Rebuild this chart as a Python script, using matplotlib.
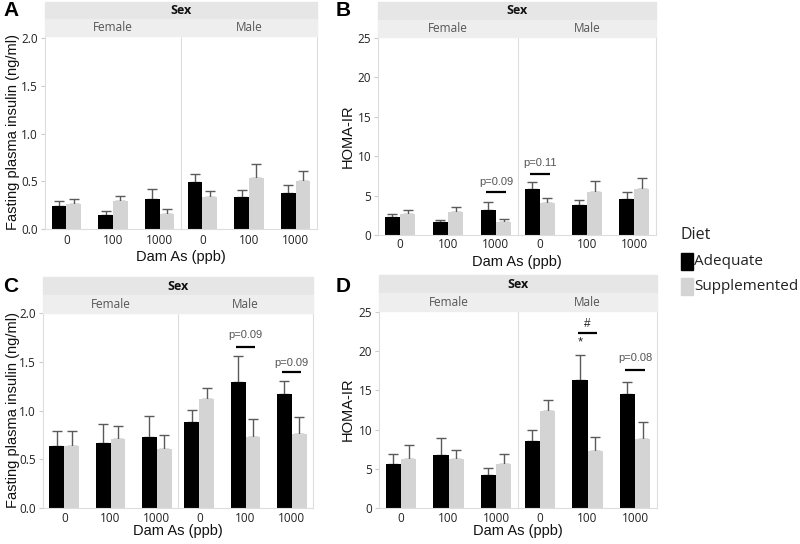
import numpy as np
import matplotlib
matplotlib.use("Agg")
from matplotlib import pyplot as plt
from matplotlib.patches import Rectangle
from matplotlib.transforms import ScaledTranslation

# groups: Female 0/100/1000, Male 0/100/1000
doses = ["0", "100", "1000"]
sexes = ["Female", "Male"]

# panel A - fasting plasma insulin (ng/ml)
a_adq = [0.24, 0.15, 0.31, 0.49, 0.34, 0.38]
a_adq_se = [0.05, 0.04, 0.11, 0.085, 0.07, 0.08]
a_sup = [0.26, 0.29, 0.16, 0.34, 0.53, 0.50]
a_sup_se = [0.05, 0.06, 0.05, 0.06, 0.15, 0.11]

# panel B - HOMA-IR
b_adq = [2.3, 1.6, 3.2, 5.8, 3.8, 4.6]
b_adq_se = [0.4, 0.3, 1.0, 0.9, 0.65, 0.9]
b_sup = [2.7, 2.9, 1.65, 4.0, 5.5, 5.9]
b_sup_se = [0.5, 0.7, 0.35, 0.7, 1.4, 1.3]

# panel C - fasting plasma insulin (ng/ml)
c_adq = [0.64, 0.67, 0.73, 0.88, 1.29, 1.17]
c_adq_se = [0.15, 0.19, 0.21, 0.13, 0.27, 0.13]
c_sup = [0.64, 0.71, 0.61, 1.12, 0.73, 0.755]
c_sup_se = [0.15, 0.13, 0.14, 0.11, 0.18, 0.175]

# panel D - HOMA-IR
d_adq = [5.6, 6.8, 4.2, 8.5, 16.3, 14.5]
d_adq_se = [1.3, 2.1, 0.95, 1.4, 3.2, 1.6]
d_sup = [6.3, 6.25, 5.6, 12.3, 7.2, 8.8]
d_sup_se = [1.7, 1.15, 1.3, 1.5, 1.9, 2.2]

# annotations: (group index, line y, label, label y)
b_notes = [(2, 5.4, "p=0.09", 6.7), (3, 7.7, "p=0.11", 9.1)]
c_notes = [(4, 1.65, "p=0.09", 1.77), (5, 1.39, "p=0.09", 1.49)]
d_notes = [(4, 22.3, "#", 23.5), (5, 17.6, "p=0.08", 19.1)]

W, H = 800, 544
fig = plt.figure(figsize=(8, 5.44), dpi=100)

TICK_FONT = "Open Sans"
AXIS_FONT = "Liberation Sans"
BLACK = "#000000"
GREY = "#D4D4D4"
EDGE = "#DDDDDD"
bw = 0.32


def fx(x):
    return x / W


def fy(y):
    return 1 - y / H


def panel(box, adq, adq_se, sup, sup_se, ymax, yticks, ylabel, letter, notes,
          ticky, xlaby, ylabx, star=None):
    left, div, right, s_top, s_mid, top, bottom = box
    # strips
    fig.patches.append(Rectangle((fx(left), fy(s_mid)), fx(right - left), (s_mid - s_top) / H,
                                 transform=fig.transFigure, color="#E6E6E6", zorder=0))
    fig.patches.append(Rectangle((fx(left), fy(top)), fx(right - left), (top - s_mid) / H,
                                 transform=fig.transFigure, color="#EEEEEE", zorder=0))
    fig.text(fx((left + right) / 2), fy((s_top + s_mid) / 2), "Sex", ha="center", va="center",
             fontsize=9, fontweight="bold", family=TICK_FONT, color="#111111")
    for k, (x0, x1) in enumerate([(left, div), (div, right)]):
        fig.text(fx((x0 + x1) / 2), fy((s_mid + top) / 2), sexes[k], ha="center", va="center",
                 fontsize=8.5, family=TICK_FONT, color="#555555")
        ax = fig.add_axes([fx(x0), fy(bottom), fx(x1 - x0), (bottom - top) / H])
        idx = np.arange(3)
        sl = slice(3 * k, 3 * k + 3)
        ya = np.array(adq[sl])
        ys = np.array(sup[sl])
        ea = np.array(adq_se[sl])
        es = np.array(sup_se[sl])
        ax.errorbar(idx - bw / 2, ya, yerr=[np.zeros(3), ea], fmt="none", ecolor="#5A5A5A",
                    elinewidth=1, capsize=3.4, capthick=1, zorder=1)
        ax.errorbar(idx + bw / 2, ys, yerr=[np.zeros(3), es], fmt="none", ecolor="#5A5A5A",
                    elinewidth=1, capsize=3.4, capthick=1, zorder=1)
        ax.bar(idx - bw / 2, ya, width=bw, color=BLACK, zorder=2)
        ax.bar(idx + bw / 2, ys, width=bw, color=GREY, zorder=2)
        for g, ly, txt, ty in notes:
            if g // 3 != k:
                continue
            c = g % 3
            ax.plot([c - bw / 2 - 0.05, c + bw / 2 + 0.05], [ly, ly], color="black", lw=1.6,
                    solid_capstyle="butt", zorder=3)
            if txt == "#":
                ax.text(c, ty, txt, ha="center", va="center", fontsize=8.5, color="#222222",
                        family=AXIS_FONT)
            else:
                ax.text(c, ty, txt, ha="center", va="center", fontsize=8, color="#555555",
                        family=AXIS_FONT)
        if star is not None and star[0] // 3 == k:
            ax.text(star[0] % 3 - bw / 2, star[1], "*", ha="center", va="center", fontsize=9.5,
                    color="#222222", family=AXIS_FONT)
        ax.set_xlim(-0.46, 2.46)
        ax.set_ylim(0, ymax)
        ax.set_xticks(idx)
        ax.set_xticklabels([])
        ax.tick_params(axis="x", length=0)
        shift = ax.get_xaxis_transform() + ScaledTranslation(0, -(ticky - bottom) / 100,
                                                             fig.dpi_scale_trans)
        for i, d in enumerate(doses):
            ax.text(i, 0, d, transform=shift, ha="center", va="center",
                    fontsize=8.5, family=TICK_FONT, color="#222222")
        ax.set_yticks(yticks)
        if k == 0:
            ax.set_yticklabels([str(t) for t in yticks], family=TICK_FONT, fontsize=8.5,
                               color="#222222")
            ax.tick_params(axis="y", length=3, color="#CCCCCC", pad=2)
        else:
            ax.set_yticklabels([])
            ax.tick_params(axis="y", length=0)
        ax.spines["top"].set_visible(False)
        for s in ["left", "right", "bottom"]:
            ax.spines[s].set_color(EDGE)
            ax.spines[s].set_linewidth(0.8)
        if k == 0:
            ax.spines["right"].set_visible(False)
    fig.text(fx((left + right) / 2), fy(xlaby), "Dam As (ppb)", ha="center", va="center",
             fontsize=10.5, family=AXIS_FONT, color="#111111")
    fig.text(fx(ylabx), fy((top + bottom) / 2), ylabel, ha="center", va="center",
             rotation=90, fontsize=10.5, family=AXIS_FONT, color="#111111")
    fig.text(fx(letter[1]), fy(letter[2]), letter[0], ha="center", va="center",
             fontsize=15, fontweight="bold", family=AXIS_FONT)


ins_ticks = [0.0, 0.5, 1.0, 1.5, 2.0]
homa_ticks = [0, 5, 10, 15, 20, 25]
ins_lab = "Fasting plasma insulin (ng/ml)"

panel((45, 181, 317, 2, 19, 36, 229), a_adq, a_adq_se, a_sup, a_sup_se, 2.021, ins_ticks,
      ins_lab, ("A", 11, 11), [], 240, 257, 13)
panel((378, 518, 656, 2, 20, 37, 235), b_adq, b_adq_se, b_sup, b_sup_se, 25.13, homa_ticks,
      "HOMA-IR", ("B", 343, 11), b_notes, 245, 262, 348)
panel((43, 178, 313, 277, 295, 313, 508), c_adq, c_adq_se, c_sup, c_sup_se, 2.0, ins_ticks,
      ins_lab, ("C", 11, 286), c_notes, 518, 531, 13)
panel((379, 518, 657, 275, 293, 311, 508), d_adq, d_adq_se, d_sup, d_sup_se, 25.1, homa_ticks,
      "HOMA-IR", ("D", 343, 286), d_notes, 518, 531, 348, star=(4, 21.1))

# legend
fig.text(fx(681), fy(235), "Diet", ha="left", va="center", fontsize=11.5, family=TICK_FONT,
         color="#222222")
for lab, col, y0, y1 in [("Adequate", BLACK, 253, 270), ("Supplemented", GREY, 278, 295)]:
    fig.patches.append(Rectangle((fx(681), fy(y1)), fx(12), (y1 - y0) / H,
                                 transform=fig.transFigure, color=col))
    fig.text(fx(694), fy((y0 + y1) / 2), lab, ha="left", va="center", fontsize=11,
             family=TICK_FONT, color="#222222")

fig.savefig("out.png", dpi=100)
